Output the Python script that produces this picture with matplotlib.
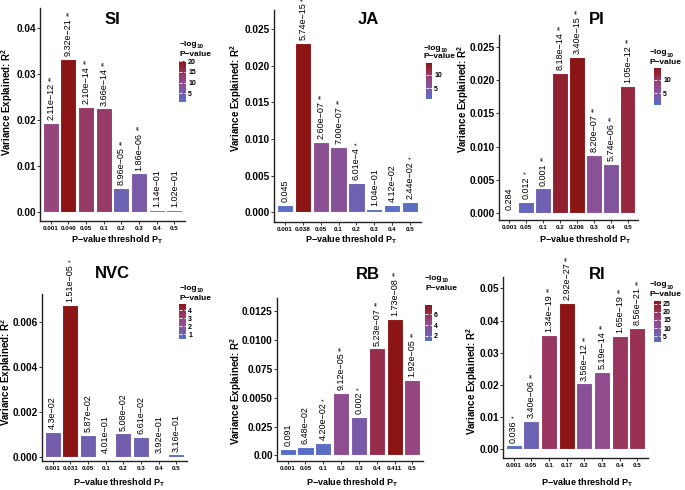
import numpy as np
import matplotlib
matplotlib.use("Agg")
import matplotlib.pyplot as plt
from matplotlib.colors import LinearSegmentedColormap, Normalize
from matplotlib.cm import ScalarMappable

plt.rcParams['font.family'] = ['Liberation Sans', 'DejaVu Sans']
plt.rcParams['mathtext.fontset'] = 'custom'
plt.rcParams['mathtext.rm'] = 'Liberation Sans'
plt.rcParams['mathtext.bf'] = 'Liberation Sans:bold'

# ---------------- data ----------------
thr_SI = ["0.001", "0.040", "0.05", "0.1", "0.2", "0.3", "0.4", "0.5"]
r2_SI = [0.0193, 0.0332, 0.0229, 0.0225, 0.0053, 0.0084, 0.0004, 0.0005]
p_SI = ["2.11e-12", "9.32e-21", "2.10e-14", "3.66e-14", "8.96e-05", "1.86e-06", "1.14e-01", "1.02e-01"]
star_SI = ["**", "**", "**", "**", "**", "**", "", ""]

thr_JA = ["0.001", "0.038", "0.05", "0.1", "0.2", "0.3", "0.4", "0.5"]
r2_JA = [0.0010, 0.0231, 0.00965, 0.00896, 0.00404, 0.00045, 0.0010, 0.0014]
p_JA = ["0.045", "5.74e-15", "2.60e-07", "7.00e-07", "6.01e-4", "1.04e-01", "4.12e-02", "2.44e-02"]
star_JA = ["", "**", "**", "**", "*", "", "", "*"]

thr_PI = ["0.001", "0.05", "0.1", "0.2", "0.206", "0.3", "0.4", "0.5"]
r2_PI = [0.00005, 0.00174, 0.00375, 0.0211, 0.0235, 0.00875, 0.0074, 0.0191]
p_PI = ["0.284", "0.012", "0.001", "8.18e-14", "3.40e-15", "8.20e-07", "5.74e-06", "1.05e-12"]
star_PI = ["", "*", "**", "**", "**", "**", "**", "**"]

thr_NVC = ["0.001", "0.031", "0.05", "0.1", "0.2", "0.3", "0.4", "0.5"]
r2_NVC = [0.00111, 0.00674, 0.00096, 0.00004, 0.00104, 0.00089, 0.00005, 0.0001]
p_NVC = ["4.3e-02", "1.51e-05", "5.87e-02", "4.01e-01", "5.08e-02", "6.61e-02", "3.92e-01", "3.16e-01"]
star_NVC = ["", "*", "", "", "", "", "", ""]

thr_RB = ["0.001", "0.05", "0.1", "0.2", "0.3", "0.4", "0.411", "0.5"]
r2_RB = [0.00056, 0.00076, 0.00106, 0.00538, 0.00333, 0.00927, 0.0118, 0.00653]
p_RB = ["0.091", "6.48e-02", "4.20e-02", "9.12e-05", "0.002", "5.23e-07", "1.73e-08", "1.92e-05"]
star_RB = ["", "", "*", "**", "*", "**", "**", "**"]

thr_RI = ["0.001", "0.05", "0.1", "0.17", "0.2", "0.3", "0.4", "0.5"]
r2_RI = [0.0013, 0.0089, 0.0356, 0.0454, 0.0205, 0.0240, 0.0352, 0.0377]
p_RI = ["0.036", "3.40e-06", "1.34e-19", "2.92e-27", "3.56e-12", "5.19e-14", "1.65e-19", "8.56e-21"]
star_RI = ["*", "**", "**", "**", "**", "**", "**", "**"]

yt_SI = [0.00, 0.01, 0.02, 0.03, 0.04]
ytl_SI = ["0.00", "0.01", "0.02", "0.03", "0.04"]
yt_JA = [0.000, 0.005, 0.010, 0.015, 0.020, 0.025]
ytl_JA = ["0.000", "0.005", "0.010", "0.015", "0.020", "0.025"]
yt_PI = yt_JA
ytl_PI = ytl_JA
yt_NVC = [0.000, 0.002, 0.004, 0.006]
ytl_NVC = ["0.000", "0.002", "0.004", "0.006"]
yt_RB = [0.0, 0.0025, 0.0050, 0.0075, 0.0100, 0.0125]
ytl_RB = ["0.00", "0.025", "0.0050", "0.075", "0.0100", "0.0125"]
yt_RI = [0.00, 0.01, 0.02, 0.03, 0.04, 0.05]
ytl_RI = ["0.00", "0.01", "0.02", "0.03", "0.04", "0.05"]

cbt_SI = [5, 10, 15, 20]
cbt_JA = [5, 10]
cbt_PI = [5, 10]
cbt_NVC = [1, 2, 3, 4]
cbt_RB = [2, 4, 6]
cbt_RI = [5, 10, 15, 20, 25]

# ---------------- layout (pixels) ----------------
W, H = 685, 490
panels = [
    dict(name="SI", thr=thr_SI, r2=r2_SI, p=p_SI, st=star_SI, yt=yt_SI, ytl=ytl_SI, cbt=cbt_SI,
         box=(40, 8, 185, 221), ylim=(-0.00196, 0.0443), title=(112, 19), ylab=(7.5, 102),
         xlab=(117, 240), cb=(179, 61, 186, 102), lt=(180, 44, 55)),
    dict(name="JA", thr=thr_JA, r2=r2_JA, p=p_JA, st=star_JA, yt=yt_JA, ytl=ytl_JA, cbt=cbt_JA,
         box=(274, 10, 421, 222), ylim=(-0.00133, 0.02764), title=(368, 20), ylab=(236.5, 98),
         xlab=(351, 240), cb=(426, 63, 432, 99), lt=(424, 48, 57)),
    dict(name="PI", thr=thr_PI, r2=r2_PI, p=p_PI, st=star_PI, yt=yt_PI, ytl=ytl_PI, cbt=cbt_PI,
         box=(499, 35, 638, 220), ylim=(-0.001, 0.02676), title=(597, 19), ylab=(463, 99),
         xlab=(585, 240), cb=(654, 68, 661, 105), lt=(650, 53, 62)),
    dict(name="NVC", thr=thr_NVC, r2=r2_NVC, p=p_NVC, st=star_NVC, yt=yt_NVC, ytl=ytl_NVC, cbt=cbt_NVC,
         box=(42, 294, 187, 461), ylim=(-0.00019, 0.00723), title=(112, 273), ylab=(6.5, 372),
         xlab=(119, 483), cb=(179, 304, 186, 339), lt=(180, 288, 298)),
    dict(name="RB", thr=thr_RB, r2=r2_RB, p=p_RB, st=star_RB, yt=yt_RB, ytl=ytl_RB, cbt=cbt_RB,
         box=(277, 298, 423, 461), ylim=(-0.00048, 0.01362), title=(368, 274), ylab=(236, 391),
         xlab=(352, 483), cb=(425, 305, 432, 341), lt=(425, 278, 289)),
    dict(name="RI", thr=thr_RI, r2=r2_RI, p=p_RI, st=star_RI, yt=yt_RI, ytl=ytl_RI, cbt=cbt_RI,
         box=(503, 277, 648, 458), ylim=(-0.00264, 0.0535), title=(597, 274), ylab=(472, 381),
         xlab=(587, 483), cb=(654, 301, 661, 342), lt=(650, 285, 294)),
]

cmap = LinearSegmentedColormap.from_list(
    "pv", [(0.0, "#5570c8"), (0.25, "#7a5aa8"), (0.5, "#944a8a"), (0.75, "#993052"), (1.0, "#8b1515")])

fig = plt.figure(figsize=(W / 100, H / 100), dpi=100)


def fx(x):
    return x / W


def fy(y):
    return 1 - y / H


for pn in panels:
    l, t, r, b = pn["box"]
    ax = fig.add_axes([fx(l), fy(b), (r - l) / W, (b - t) / H])
    x = np.arange(1, len(pn["thr"]) + 1)
    pvals = np.array([float(s) for s in pn["p"]])
    lp = -np.log10(pvals)
    norm = Normalize(vmin=lp.min(), vmax=lp.max())
    cols = cmap(norm(lp))
    ax.bar(x, pn["r2"], width=0.9, color=cols, edgecolor="white", linewidth=0.8)
    ax.set_xlim(0.4, len(x) + 0.6)
    ax.set_ylim(*pn["ylim"])
    ax.set_xticks(x)
    ax.set_xticklabels(pn["thr"], fontsize=4.5, fontweight="bold")
    ax.set_yticks(pn["yt"])
    ax.set_yticklabels(pn["ytl"], fontsize=7.2, fontweight="bold")
    ax.tick_params(axis="x", length=2, width=0.7, pad=1.5, color="#333333")
    ax.tick_params(axis="y", length=2, width=0.7, pad=1.0, color="#333333")
    for s in ["top", "right"]:
        ax.spines[s].set_visible(False)
    for s in ["left", "bottom"]:
        ax.spines[s].set_linewidth(1.0)
        ax.spines[s].set_color("#222222")
    for xi, h, lab, st in zip(x, pn["r2"], pn["p"], pn["st"]):
        tx = ax.annotate(lab.replace("-", "\u2212"), xy=(xi, h), xytext=(0, 2),
                         textcoords="offset points", rotation=90, ha="center", va="bottom",
                         fontsize=6.5, annotation_clip=False)
        if st:
            ax.annotate(st, xy=(0.5, 1.0), xycoords=tx, xytext=(0.8, 1.5),
                        textcoords="offset points", rotation=90, ha="center", va="bottom",
                        fontsize=5, annotation_clip=False)
    # title and axis labels
    fig.text(fx(pn["title"][0]), fy(pn["title"][1]), pn["name"], fontsize=12, fontweight="bold",
             ha="center", va="center")
    fig.text(fx(pn["ylab"][0]), fy(pn["ylab"][1]), "Variance Explained: R$^{\\mathbf{2}}$",
             rotation=90, fontsize=7, fontweight="bold", ha="center", va="center")
    fig.text(fx(pn["xlab"][0]), fy(pn["xlab"][1]), "P\u2212value threshold P$_{\\mathbf{T}}$",
             fontsize=6.5, fontweight="bold", ha="center", va="center")
    # colorbar legend
    cl, ct, cr, cbm = pn["cb"]
    cax = fig.add_axes([fx(cl), fy(cbm), (cr - cl) / W, (cbm - ct) / H])
    cb = fig.colorbar(ScalarMappable(norm=norm, cmap=cmap), cax=cax)
    cb.outline.set_visible(False)
    cb.set_ticks(pn["cbt"])
    cax.tick_params(axis="y", length=1.8, width=0.6, color="white", direction="in",
                    left=True, right=True, labelleft=False, labelright=True,
                    labelsize=5, pad=1.5)
    for tl in cax.get_yticklabels():
        tl.set_fontweight("bold")
    lx, ly1, ly2 = pn["lt"]
    fig.text(fx(lx), fy(ly1), "\u2212log", fontsize=6, fontweight="bold", ha="left", va="center")
    fig.text(fx(lx + 16.5), fy(ly1 + 2.5), "10", fontsize=4.5, fontweight="bold", ha="left", va="center")
    fig.text(fx(lx), fy(ly2), "P\u2212value", fontsize=6, fontweight="bold", ha="left", va="center")

fig.savefig("out.png", dpi=100)
